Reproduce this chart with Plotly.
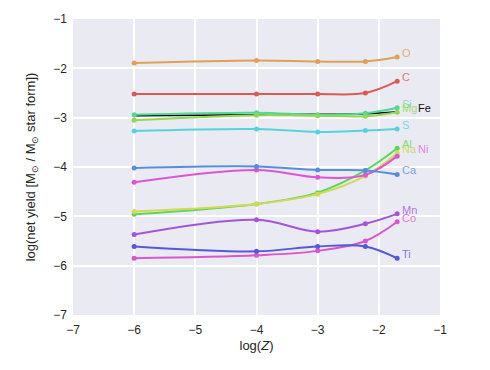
import plotly.graph_objects as go

# log(Z) sampling points
LOGZ = [-6.0, -4.0, -3.0, -2.22, -1.7]

# Fe first so the other lines sit on top of it, as in the original
ELEMENTS = ["Fe", "O", "C", "Si", "Mg", "S", "Al", "Na", "Ni", "Ca", "Mn", "Co", "Ti"]

FE_YIELD = [-2.96, -2.94, -2.93, -2.92, -2.88]
O_YIELD  = [-1.89, -1.84, -1.86, -1.86, -1.77]
C_YIELD  = [-2.52, -2.52, -2.52, -2.50, -2.26]
SI_YIELD = [-2.94, -2.90, -2.94, -2.91, -2.80]
MG_YIELD = [-3.05, -2.95, -2.96, -2.97, -2.89]
S_YIELD  = [-3.27, -3.23, -3.29, -3.26, -3.23]
AL_YIELD = [-4.96, -4.75, -4.52, -4.07, -3.62]
NA_YIELD = [-4.90, -4.75, -4.55, -4.18, -3.72]
NI_YIELD = [-4.31, -4.06, -4.21, -4.16, -3.78]
CA_YIELD = [-4.02, -3.99, -4.06, -4.07, -4.15]
MN_YIELD = [-5.37, -5.07, -5.31, -5.15, -4.95]
CO_YIELD = [-5.85, -5.79, -5.70, -5.50, -5.11]
TI_YIELD = [-5.61, -5.71, -5.61, -5.61, -5.85]

YIELDS = [FE_YIELD, O_YIELD, C_YIELD, SI_YIELD, MG_YIELD, S_YIELD, AL_YIELD,
          NA_YIELD, NI_YIELD, CA_YIELD, MN_YIELD, CO_YIELD, TI_YIELD]

COLORS = {
    "O": "#e0a055", "C": "#dc5a52", "Si": "#4fd898", "Mg": "#8fd850",
    "Fe": "#000000", "S": "#55d3dc", "Al": "#5ad85a", "Na": "#d3d855",
    "Ni": "#dc55d6", "Ca": "#558edc", "Mn": "#a055dc", "Co": "#dc55cc",
    "Ti": "#5558dc",
}
LABEL_COLORS = {
    "O": "rgba(224,160,85,0.8)", "C": "rgba(220,90,82,0.8)", "Si": "rgba(79,216,152,0.7)",
    "Mg": "rgba(143,216,80,0.8)", "Fe": "#111111", "S": "rgba(85,211,220,0.8)",
    "Al": "rgba(90,216,90,0.8)", "Na": "rgba(211,216,85,0.9)", "Ni": "rgba(220,85,214,0.7)",
    "Ca": "rgba(85,142,220,0.8)", "Mn": "rgba(160,85,220,0.8)", "Co": "rgba(220,85,204,0.8)",
    "Ti": "rgba(85,88,220,0.8)",
}

fig = go.Figure()
for el, y in zip(ELEMENTS, YIELDS):
    fig.add_trace(go.Scatter(
        x=LOGZ, y=y, mode="lines+markers", name=el,
        line=dict(color=COLORS[el], width=1.5 if el == "Fe" else 2, shape="spline", smoothing=1.0),
        marker=dict(color=COLORS[el], size=5 if el != "Fe" else 3),
        showlegend=False,
    ))

# labels to the right of the last point; Fe and Ni share rows with Mg and Na
label_row = {"Fe": "Mg", "Ni": "Na"}
for el, y in zip(ELEMENTS, YIELDS):
    ref = label_row.get(el, el)
    ly = YIELDS[ELEMENTS.index(ref)][-1]
    fig.add_annotation(
        x=LOGZ[-1], y=ly, text=el, showarrow=False,
        xanchor="left", yanchor="middle",
        xshift=19 if el in label_row else 3, yshift=4,
        font=dict(color=LABEL_COLORS[el], size=11),
    )

axis_common = dict(
    showgrid=True, gridcolor="white", gridwidth=1.5, zeroline=False,
    showline=False, ticks="", ticklen=0, tickfont=dict(size=12, color="#262626"),
    dtick=1, automargin=False,
)
fig.update_xaxes(range=[-7, -1], ticklabelstandoff=6,
                 title=dict(text="log(<i>Z</i>)", font=dict(size=13, color="#262626"), standoff=4),
                 **axis_common)
fig.update_yaxes(range=[-7, -1], ticklabelstandoff=5,
                 title=dict(text="log(net yield [M<sub>⊙</sub> / M<sub>⊙</sub> star form])",
                            font=dict(size=13, color="#262626"), standoff=14),
                 **axis_common)
fig.update_layout(
    width=490, height=370,
    margin=dict(l=65, r=58, t=11, b=63),
    plot_bgcolor="#EAEAF2", paper_bgcolor="white",
    font=dict(family="Liberation Sans, Arial, sans-serif"),
)
fig.write_html("out.html")
